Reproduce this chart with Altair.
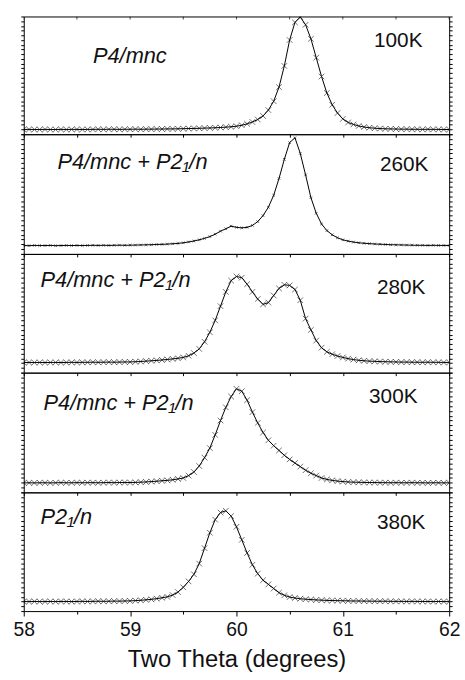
import altair as alt
import pandas as pd

# Scan positions (degrees 2-theta), 0.05 degree step
two_theta = [
    58.00, 58.05, 58.10, 58.15, 58.20, 58.25, 58.30, 58.35, 58.40, 58.45,
    58.50, 58.55, 58.60, 58.65, 58.70, 58.75, 58.80, 58.85, 58.90, 58.95,
    59.00, 59.05, 59.10, 59.15, 59.20, 59.25, 59.30, 59.35, 59.40, 59.45,
    59.50, 59.55, 59.60, 59.65, 59.70, 59.75, 59.80, 59.85, 59.90, 59.95,
    60.00, 60.05, 60.10, 60.15, 60.20, 60.25, 60.30, 60.35, 60.40, 60.45,
    60.50, 60.55, 60.60, 60.65, 60.70, 60.75, 60.80, 60.85, 60.90, 60.95,
    61.00, 61.05, 61.10, 61.15, 61.20, 61.25, 61.30, 61.35, 61.40, 61.45,
    61.50, 61.55, 61.60, 61.65, 61.70, 61.75, 61.80, 61.85, 61.90, 61.95,
    62.00,
]

# Normalised intensities, one profile per temperature
i_100K = [
    .040, .041, .040, .040, .041, .040, .040, .041, .040, .041,
    .041, .040, .041, .041, .042, .041, .042, .042, .041, .042,
    .042, .043, .042, .043, .043, .044, .044, .045, .045, .046,
    .047, .048, .049, .050, .052, .053, .055, .057, .060, .063,
    .068, .076, .088, .104, .125, .155, .205, .280, .400, .580,
    .800, .950, .995, .930, .810, .650, .490, .350, .250, .180,
    .130, .100, .083, .070, .061, .055, .051, .048, .046, .045,
    .044, .043, .043, .042, .042, .041, .042, .041, .041, .040,
    .040,
]
i_260K = [
    .070, .069, .071, .070, .070, .071, .069, .070, .071, .070,
    .071, .070, .071, .072, .071, .072, .071, .072, .073, .072,
    .073, .074, .075, .076, .077, .079, .080, .082, .085, .088,
    .093, .100, .108, .118, .130, .145, .165, .190, .210, .232,
    .222, .218, .222, .238, .270, .320, .390, .490, .630, .790,
    .930, .970, .840, .660, .470, .340, .250, .195, .160, .135,
    .118, .107, .099, .093, .089, .086, .083, .081, .079, .077,
    .076, .075, .074, .073, .072, .072, .071, .072, .071, .071,
    .070,
]
i_280K = [
    .085, .086, .085, .086, .085, .086, .086, .085, .086, .087,
    .086, .087, .087, .088, .087, .088, .089, .088, .089, .090,
    .090, .092, .094, .097, .100, .103, .107, .111, .116, .121,
    .128, .142, .165, .200, .260, .340, .440, .560, .680, .775,
    .810, .800, .745, .680, .620, .575, .590, .650, .710, .740,
    .735, .700, .610, .455, .360, .270, .210, .175, .155, .140,
    .128, .118, .110, .104, .100, .097, .095, .093, .092, .091,
    .090, .089, .089, .088, .088, .087, .088, .087, .087, .086,
    .086,
]
i_300K = [
    .079, .080, .079, .080, .080, .079, .080, .081, .080, .080,
    .081, .080, .081, .081, .080, .081, .082, .081, .082, .082,
    .082, .083, .085, .087, .090, .093, .097, .100, .105, .112,
    .120, .140, .170, .220, .290, .370, .480, .600, .710, .800,
    .865, .845, .770, .670, .580, .500, .435, .390, .350, .310,
    .275, .245, .215, .185, .160, .140, .120, .108, .100, .094,
    .090, .087, .085, .084, .083, .082, .082, .081, .081, .080,
    .081, .080, .080, .081, .080, .080, .079, .080, .080, .079,
    .080,
]
i_380K = [
    .080, .080, .081, .080, .080, .081, .080, .081, .081, .080,
    .081, .082, .081, .082, .083, .082, .083, .084, .084, .085,
    .086, .088, .091, .095, .099, .105, .112, .120, .135, .160,
    .200, .250, .310, .400, .530, .660, .770, .830, .845, .800,
    .710, .600, .490, .390, .315, .260, .225, .190, .155, .133,
    .118, .110, .104, .100, .097, .094, .092, .090, .089, .088,
    .087, .086, .085, .085, .084, .084, .083, .083, .083, .082,
    .082, .082, .081, .082, .081, .081, .081, .080, .081, .080,
    .080,
]

temperatures = ["100K", "260K", "280K", "300K", "380K"]
phases = ["P4/mnc", "P4/mnc + P2\u2081/n", "P4/mnc + P2\u2081/n",
          "P4/mnc + P2\u2081/n", "P2\u2081/n"]
profiles = [i_100K, i_260K, i_280K, i_300K, i_380K]

x_ticks = [58, 58.5, 59, 59.5, 60, 60.5, 61, 61.5, 62]
y_ticks = [k / 25 for k in range(26)]

# Diagonal cross marker for the observed points
CROSS = "M-1,-1L1,1M-1,1L1,-1"
FONT = "Liberation Sans"

# layout of each panel: height, phase label pos, temperature label pos, marker size
panel_height = [119, 121, 120, 121, 120]
phase_pos = [(70, 47), (34, 35), (17, 33), (20, 38), (17, 32)]
temp_pos = [(354, 31), (360, 37), (357, 41), (349, 31), (357, 37)]
marker_size = [32, 7, 32, 32, 32]


def panel(k):
    top = k == 0
    bottom = k == len(profiles) - 1
    df = pd.DataFrame({"two_theta": two_theta, "intensity": profiles[k]})
    x_scale = alt.Scale(domain=[58, 62], nice=False, zero=False)
    y_scale = alt.Scale(domain=[0, 1], nice=False, zero=False)

    x_axis = alt.Axis(
        values=x_ticks,
        labels=bottom,
        labelExpr="datum.value % 1 === 0 ? format(datum.value, 'd') : ''",
        title="Two Theta (degrees)" if bottom else None,
        grid=False,
        domain=False,
        tickColor="black",
        tickSize={"condition": {"test": "datum.value % 1 === 0", "value": 5}, "value": 3} if bottom else 3,
        labelFont=FONT,
        labelFontSize=19.5,
        labelColor="#111",
        labelPadding=5,
        labelFlush=False,
        titleFont=FONT,
        titleFontSize=24,
        titleFontWeight="normal",
        titleColor="#111",
        titlePadding=9,
    )
    left_axis = alt.Axis(orient="left", values=y_ticks, labels=False, title=None,
                         grid=False, domain=False, tickSize=3, tickColor="black")
    right_axis = alt.Axis(orient="right", values=y_ticks, labels=False, title=None,
                          grid=False, domain=False, tickSize=3, tickColor="black")

    base = alt.Chart(df)
    fit = base.mark_line(color="black", strokeWidth=1, clip=True).encode(
        x=alt.X("two_theta:Q", scale=x_scale, axis=x_axis),
        y=alt.Y("intensity:Q", scale=y_scale, axis=left_axis),
    )
    obs = base.mark_point(shape=CROSS, size=marker_size[k], filled=False,
                          stroke="black", strokeWidth=0.8, clip=True).encode(
        x="two_theta:Q",
        y=alt.Y("intensity:Q", axis=None),
    )
    right = base.mark_point(opacity=0, clip=True).encode(
        x="two_theta:Q",
        y=alt.Y("intensity:Q", axis=right_axis),
    )
    label_src = alt.Chart(pd.DataFrame({"t": [0]}))
    phase_txt = label_src.mark_text(
        text=phases[k], font=FONT, fontSize=22, fontStyle="italic",
        align="left", baseline="alphabetic", color="#111",
    ).encode(x=alt.value(phase_pos[k][0]), y=alt.value(phase_pos[k][1]))
    temp_txt = label_src.mark_text(
        text=temperatures[k], font=FONT, fontSize=21,
        align="left", baseline="alphabetic", color="#111",
    ).encode(x=alt.value(temp_pos[k][0]), y=alt.value(temp_pos[k][1]))

    layers = [fit, right, obs, phase_txt, temp_txt]
    if top:
        # inward ticks along the upper frame edge
        top_ticks = alt.Chart(pd.DataFrame({"two_theta": x_ticks})).mark_tick(
            orient="vertical", size=3, thickness=1, color="black", clip=True,
        ).encode(x="two_theta:Q", y=alt.value(1.5))
        layers.append(top_ticks)

    return (
        alt.layer(*layers)
        .resolve_axis(y="independent")
        .properties(width=430, height=panel_height[k])
    )


chart = (
    alt.vconcat(*[panel(k) for k in range(len(profiles))], spacing=0, bounds="flush")
    .properties(padding={"left": 12, "top": 12, "right": 4, "bottom": 4}, background="white")
    .configure_view(stroke="black", strokeWidth=1)
)

chart.save("out.html", embed_options={"renderer": "svg", "actions": False})
